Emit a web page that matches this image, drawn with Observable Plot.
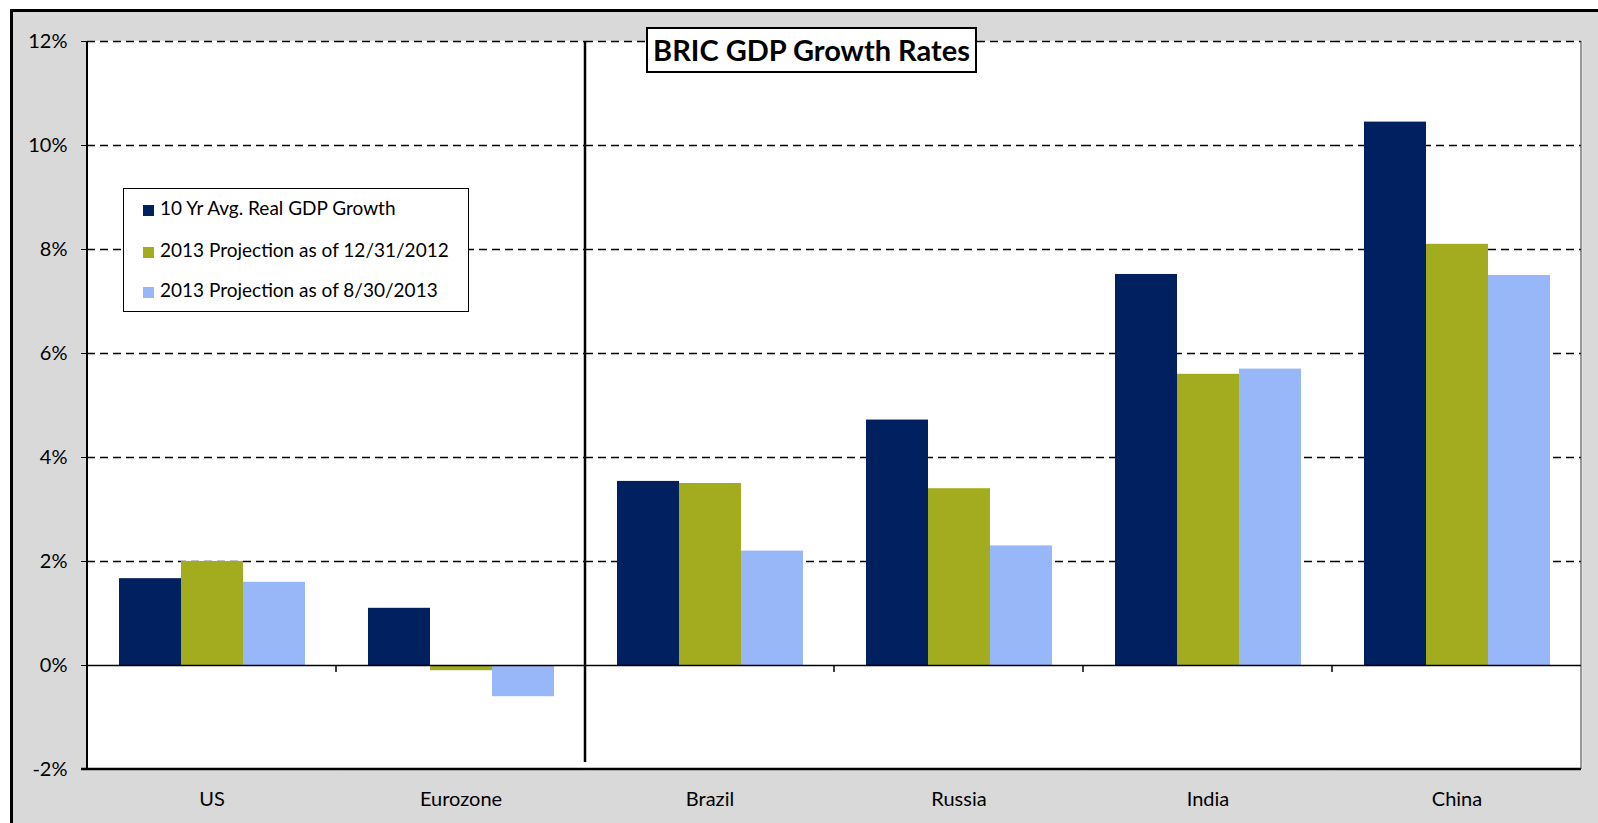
<!DOCTYPE html>
<html>
<head>
<meta charset="utf-8">
<script src="https://cdn.jsdelivr.net/npm/d3@7"></script>
<script src="https://cdn.jsdelivr.net/npm/@observablehq/plot@0.6"></script>
<style>
  html, body { margin: 0; padding: 0; background: #fff; overflow: hidden; width: 1598px; height: 823px; }
  #frame { position: absolute; left: 10px; top: 9px; width: 1600px; height: 830px; border: 3px solid #000; background: #d9d9d9; box-sizing: border-box; }
  #chart { position: absolute; left: 0; top: 0; }
  #title { position: absolute; left: 646px; top: 27px; width: 331px; height: 46px; box-sizing: border-box; border: 2px solid #000; background: #fff;
           font-family: Lato, "Open Sans", sans-serif; font-weight: bold; font-size: 29px; line-height: 42px; text-align: center; color: #000; }
  #legend { position: absolute; left: 123px; top: 188px; width: 346px; height: 124px; box-sizing: border-box; border: 1.5px solid #000; background: #fff;
            font-family: Lato, "Open Sans", sans-serif; font-size: 19px; color: #000; }
  .item { position: absolute; left: 19px; height: 22px; line-height: 22px; white-space: nowrap; }
  .sw { display: inline-block; width: 11px; height: 11px; margin-right: 6px; vertical-align: -1px; }
</style>
</head>
<body>
<div id="frame"></div>
<div id="chart"></div>
<div id="title">BRIC GDP Growth Rates</div>
<div id="legend"></div>
<script>
const countries = ["US", "Eurozone", "Brazil", "Russia", "India", "China"];
const series = ["10 Yr Avg. Real GDP Growth", "2013 Projection as of 12/31/2012", "2013 Projection as of 8/30/2013"];
const avg10Yr = [1.67, 1.1, 3.54, 4.72, 7.52, 10.45];
const proj20121231 = [2.0, -0.1, 3.5, 3.4, 5.6, 8.1];
const proj20130830 = [1.6, -0.6, 2.2, 2.3, 5.7, 7.5];
const yTicks = [-2, 0, 2, 4, 6, 8, 10, 12];
const gridValues = [2, 4, 6, 8, 10, 12];
const colors = ["#002060", "#A2AC1E", "#97B7F8"];

const valueSets = [avg10Yr, proj20121231, proj20130830];
const rows = [];
countries.forEach((c, i) => {
  series.forEach((s, j) => rows.push({country: c, series: s, value: valueSets[j][i]}));
});

const plot = Plot.plot({
  width: 1598,
  height: 823,
  marginLeft: 86,
  marginRight: 16,
  marginTop: 41,
  marginBottom: 54,
  style: {background: "transparent", fontFamily: "Lato, 'Open Sans', sans-serif", fontSize: "20px", color: "#000", overflow: "visible"},
  facet: {data: rows, x: "country"},
  fx: {domain: countries, padding: 0, label: null, axis: "bottom", tickSize: 0, tickPadding: 22},
  x: {domain: series, paddingInner: 0, paddingOuter: 0.5, axis: null},
  y: {domain: [-2, 12], ticks: yTicks, tickFormat: d => d + "%", tickSize: 6, tickPadding: 14, label: null},
  color: {domain: series, range: colors},
  marks: [
    Plot.frame({fill: "#fff", stroke: "#fff", strokeWidth: 1.5}),
    Plot.ruleY(gridValues, {stroke: "#000", strokeWidth: 1.6, strokeDasharray: "8,5"}),
    Plot.barY(rows, {x: "series", y: "value", fill: "series"}),
    Plot.ruleY([0], {stroke: "#000", strokeWidth: 1.5})
  ]
});
document.getElementById("chart").appendChild(plot);

// Frame lines, category boundary ticks and separator from the library's scales
let fxScale = null, yScale = null;
try { fxScale = plot.scale("fx"); } catch (e) {}
try { yScale = plot.scale("y"); } catch (e) {}
const fxFn = (fxScale && fxScale.apply) ? fxScale.apply :
  d3.scaleBand().domain(countries).range([86, 1582]).padding(0);
const yFn = (yScale && yScale.apply) ? yScale.apply : d3.scaleLinear().domain([-2, 12]).range([769, 41]);
const xLeft = fxFn(countries[0]);
const step = fxFn(countries[1]) - fxFn(countries[0]);
const xRight = fxFn(countries[countries.length - 1]) + step;
const yTop = yFn(12), yBottom = yFn(-2), yZero = yFn(0);

const g = d3.select(plot).append("g").attr("stroke", "#000").attr("fill", "none");
countries.slice(1).forEach(c => {
  const x = fxFn(c);
  g.append("line").attr("x1", x).attr("x2", x).attr("y1", yZero).attr("y2", yZero + 7).attr("stroke-width", 1.5);
});
const sx = fxFn("Brazil");
g.append("line").attr("x1", sx).attr("x2", sx).attr("y1", yTop).attr("y2", yBottom - 7).attr("stroke-width", 2.5);
g.append("line").attr("x1", xLeft).attr("x2", xLeft).attr("y1", yTop).attr("y2", yBottom + 1).attr("stroke-width", 2);
g.append("line").attr("x1", xLeft - 6).attr("x2", xRight).attr("y1", yBottom).attr("y2", yBottom).attr("stroke-width", 2.5);
g.append("line").attr("x1", xRight).attr("x2", xRight).attr("y1", yTop).attr("y2", yBottom).attr("stroke-width", 1).attr("stroke", "#333");

// Legend
const legend = document.getElementById("legend");
const rowTops = [8, 50, 90];
series.forEach((s, i) => {
  const d = document.createElement("div");
  d.className = "item";
  d.style.top = rowTops[i] + "px";
  d.innerHTML = `<span class="sw" style="background:${colors[i]}"></span>${s}`;
  legend.appendChild(d);
});
</script>
</body>
</html>
